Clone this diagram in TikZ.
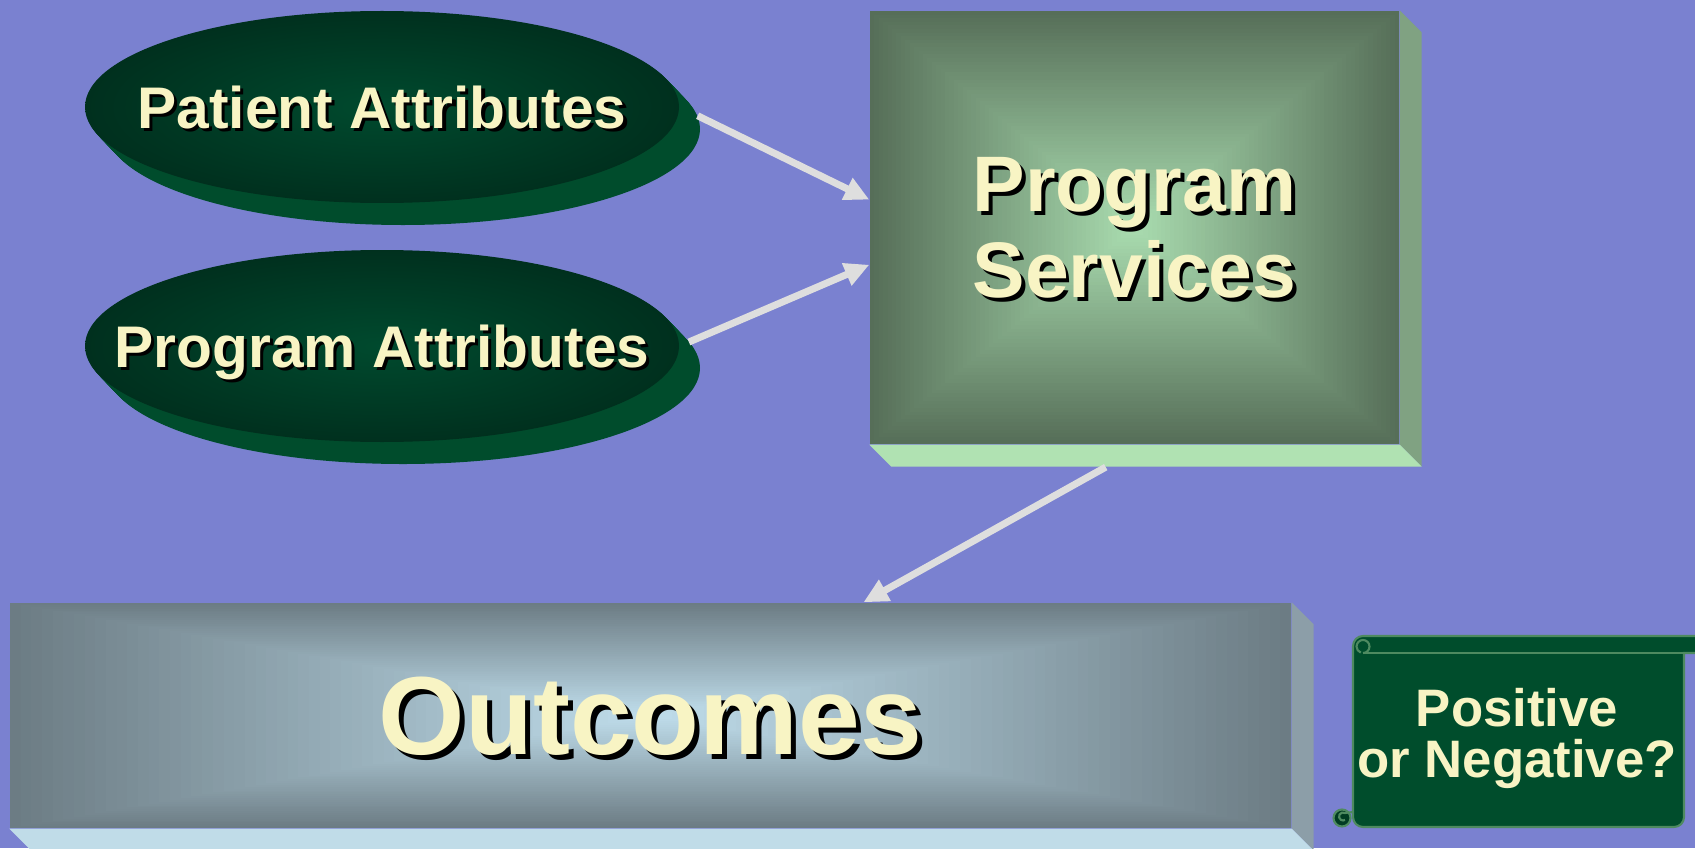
\documentclass[tikz,border=0pt]{standalone}
\usepackage{fontspec}
\setmainfont{Liberation Sans}
\usetikzlibrary{shapes.geometric,arrows.meta,positioning,calc}

\definecolor{slide}{HTML}{7A81D0}
\definecolor{cream}{HTML}{F8F4C4}
\definecolor{ovalTop}{HTML}{004A2E}
\definecolor{ovalRim}{HTML}{00301E}
\definecolor{ovalSide}{HTML}{004C2C}
\definecolor{svEdge}{HTML}{566E58}
\definecolor{svMid}{HTML}{AADDB0}
\definecolor{svRight}{HTML}{80A282}
\definecolor{svBottom}{HTML}{B0E2B2}
\definecolor{ocEdge}{HTML}{6C7C84}
\definecolor{ocMid}{HTML}{C0DEEC}
\definecolor{ocRight}{HTML}{8C9EA8}
\definecolor{ocBottom}{HTML}{C0DCE8}
\definecolor{scrollFill}{HTML}{004D2C}
\definecolor{scrollDark}{HTML}{003C22}
\definecolor{scrollLine}{HTML}{4E8A60}
\definecolor{arrowGrey}{HTML}{DEDEDE}

% text with a black drop shadow
\newcommand{\shadowed}[2]{\makebox[0pt]{\makebox[0pt][l]{\kern#1\raisebox{-#1}{\color{black}#2}}#2}}

\begin{document}
\begin{tikzpicture}[
    oval/.style={ellipse, minimum width=5.94cm, minimum height=1.92cm, inner sep=0pt,
        inner color=ovalTop, outer color=ovalRim, text=cream, text depth=0pt,
        font=\fontsize{16.7pt}{20pt}\selectfont\bfseries},
    glowbox/.style 2 args={rectangle, inner sep=0pt, text=cream, text depth=0pt, align=center,
        path picture={
            \foreach \i in {0,...,60} {
                \pgfmathsetmacro\p{100*\i/60}
                \fill[#2!\p!#1] ($(path picture bounding box.center)!{1-\i/60}!(path picture bounding box.north east)$)
                    rectangle ($(path picture bounding box.center)!{1-\i/60}!(path picture bounding box.south west)$);
            }
        }},
    scroll/.style={fill=scrollFill, draw=scrollLine, line width=0.6pt},
    arrow/.style={->, >={Triangle[length=7pt,width=6.5pt]}, line width=2pt, draw=arrowGrey}
]

% Slide background
\useasboundingbox (0,0) rectangle (16.95,8.48);
\fill[slide] (0,0) rectangle (16.95,8.48);

% Attribute ovals with their thickness
\coordinate (patC) at (3.82,7.41);
\coordinate (progC) at (3.82,5.02);
\foreach \c in {patC,progC}
    \foreach \s in {1,...,20}
        \fill[ovalSide] ($(\c)+(0.0105*\s,-0.011*\s)$) ellipse [x radius=2.97cm, y radius=0.96cm];

\node[oval] (patient) at (patC) {\shadowed{0.9pt}{Patient Attributes}};
\node[oval] (progattr) at (progC) {\shadowed{0.9pt}{Program Attributes}};

% Boxes
\node[glowbox={svEdge}{svMid}, minimum width=5.29cm, minimum height=4.33cm,
    font=\fontsize{22.4pt}{24.7pt}\selectfont\bfseries] (services) at (11.345,6.205)
    {\shadowed{1.1pt}{Program}\\\shadowed{1.1pt}{Services}};
\node[glowbox={ocEdge}{ocMid}, minimum width=12.81cm, minimum height=2.25cm,
    font=\fontsize{31.6pt}{36pt}\selectfont\bfseries] (outcomes) at (6.505,1.325)
    {\shadowed{1.4pt}{Outcomes}};

% Bevel faces
\foreach \bx/\rc/\bc in {services/svRight/svBottom, outcomes/ocRight/ocBottom} {
    \fill[\rc] (\bx.north east) -- ++(0.22,-0.22) -- ($(\bx.south east)+(0.22,-0.22)$) -- (\bx.south east) -- cycle;
    \fill[\bc] (\bx.south west) -- (\bx.south east) -- ($(\bx.south east)+(0.22,-0.22)$) -- ($(\bx.south west)+(0.22,-0.22)$) -- cycle;
}

% Arrows
\draw[arrow, shorten <=0.2cm] (patient.east) -- (services.174.7);
\draw[arrow, shorten <=0.1cm] (progattr.east) -- (services.188.7);
\draw[arrow, shorten <=0.46cm] (services.273.2) -- (outcomes.28.8);

% Scroll
\filldraw[scroll] (13.53,0.21) [rounded corners=0.1cm] -- (13.53,2.12) -- (17.1,2.12) [sharp corners] -- (17.1,1.95)
    -- (16.84,1.95) [rounded corners=0.1cm] -- (16.84,0.21) -- cycle;
\draw[scrollLine, line width=0.6pt] (13.63,1.95) -- (16.84,1.95);
\draw[scrollLine, line width=0.6pt] (13.63,1.95) arc (-90:250:0.065);
\filldraw[scroll, fill=scrollDark] (13.42,0.30) circle (0.085);
\draw[scrollLine, line width=0.6pt] (13.45,0.35) arc (60:300:0.04) (13.45,0.35) -- (13.53,0.36);
\node[text=cream, align=center, text depth=0pt, font=\fontsize{15pt}{14.5pt}\selectfont\bfseries]
    (verdict) at (15.17,1.155) {Positive\\or Negative?};

\end{tikzpicture}
\end{document}
